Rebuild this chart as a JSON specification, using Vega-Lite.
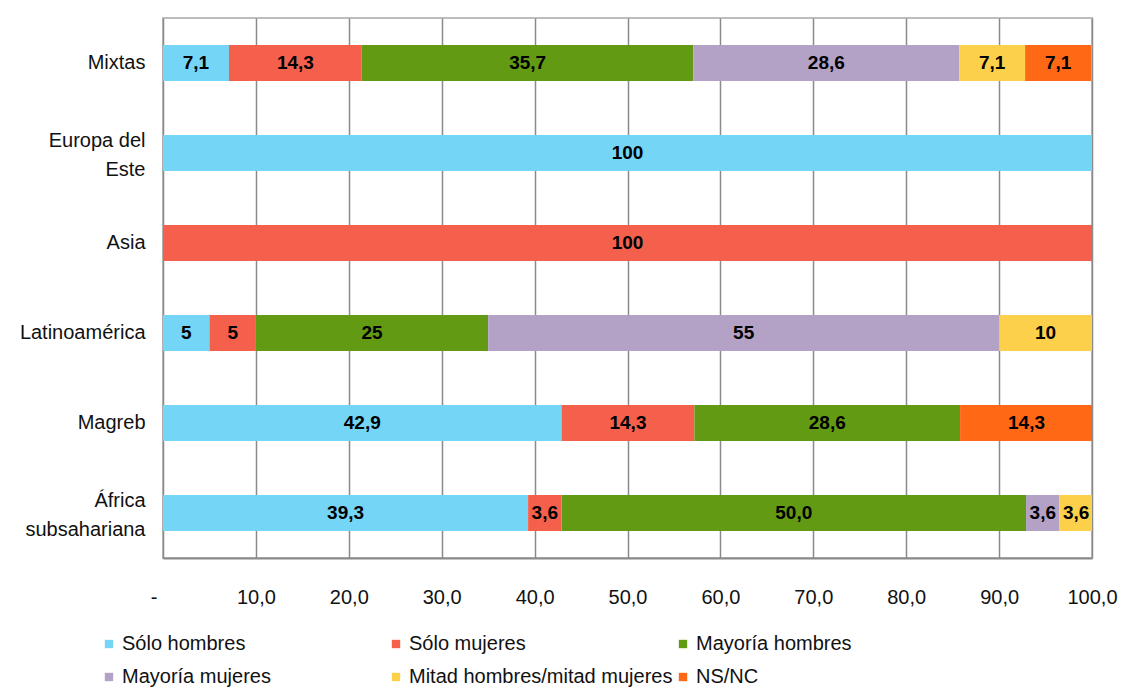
{
  "$schema": "https://vega.github.io/schema/vega-lite/v6.json",
  "width": 929,
  "height": 540,
  "autosize": {"type": "none"},
  "padding": {"left": 163, "top": 18, "right": 38, "bottom": 137},
  "background": "white",
  "config": {
    "font": "Liberation Sans",
    "view": {"stroke": "#bdbdbd", "strokeWidth": 2}
  },
  "data": {
    "values": [
      {"grupo": "Mixtas", "tipo": "Sólo hombres", "o": 1, "v": 7.1, "etiqueta": "7,1"},
      {"grupo": "Mixtas", "tipo": "Sólo mujeres", "o": 2, "v": 14.3, "etiqueta": "14,3"},
      {"grupo": "Mixtas", "tipo": "Mayoría hombres", "o": 3, "v": 35.7, "etiqueta": "35,7"},
      {"grupo": "Mixtas", "tipo": "Mayoría mujeres", "o": 4, "v": 28.6, "etiqueta": "28,6"},
      {"grupo": "Mixtas", "tipo": "Mitad hombres/mitad mujeres", "o": 5, "v": 7.1, "etiqueta": "7,1"},
      {"grupo": "Mixtas", "tipo": "NS/NC", "o": 6, "v": 7.1, "etiqueta": "7,1"},
      {"grupo": "Europa del Este", "tipo": "Sólo hombres", "o": 1, "v": 100, "etiqueta": "100"},
      {"grupo": "Asia", "tipo": "Sólo mujeres", "o": 2, "v": 100, "etiqueta": "100"},
      {"grupo": "Latinoamérica", "tipo": "Sólo hombres", "o": 1, "v": 5, "etiqueta": "5"},
      {"grupo": "Latinoamérica", "tipo": "Sólo mujeres", "o": 2, "v": 5, "etiqueta": "5"},
      {"grupo": "Latinoamérica", "tipo": "Mayoría hombres", "o": 3, "v": 25, "etiqueta": "25"},
      {"grupo": "Latinoamérica", "tipo": "Mayoría mujeres", "o": 4, "v": 55, "etiqueta": "55"},
      {"grupo": "Latinoamérica", "tipo": "Mitad hombres/mitad mujeres", "o": 5, "v": 10, "etiqueta": "10"},
      {"grupo": "Magreb", "tipo": "Sólo hombres", "o": 1, "v": 42.9, "etiqueta": "42,9"},
      {"grupo": "Magreb", "tipo": "Sólo mujeres", "o": 2, "v": 14.3, "etiqueta": "14,3"},
      {"grupo": "Magreb", "tipo": "Mayoría hombres", "o": 3, "v": 28.6, "etiqueta": "28,6"},
      {"grupo": "Magreb", "tipo": "NS/NC", "o": 6, "v": 14.3, "etiqueta": "14,3"},
      {"grupo": "África subsahariana", "tipo": "Sólo hombres", "o": 1, "v": 39.3, "etiqueta": "39,3"},
      {"grupo": "África subsahariana", "tipo": "Sólo mujeres", "o": 2, "v": 3.6, "etiqueta": "3,6"},
      {"grupo": "África subsahariana", "tipo": "Mayoría hombres", "o": 3, "v": 50.0, "etiqueta": "50,0"},
      {"grupo": "África subsahariana", "tipo": "Mayoría mujeres", "o": 4, "v": 3.6, "etiqueta": "3,6"},
      {"grupo": "África subsahariana", "tipo": "Mitad hombres/mitad mujeres", "o": 5, "v": 3.6, "etiqueta": "3,6"}
    ]
  },
  "transform": [
    {"stack": "v", "groupby": ["grupo"], "sort": [{"field": "o", "order": "ascending"}], "as": ["v0", "v1"]},
    {"calculate": "(datum.v0 + datum.v1) / 2", "as": "mid"}
  ],
  "encoding": {
    "y": {
      "field": "grupo",
      "type": "nominal",
      "sort": ["Mixtas", "Europa del Este", "Asia", "Latinoamérica", "Magreb", "África subsahariana"],
      "scale": {"paddingInner": 0.6, "paddingOuter": 0.3},
      "axis": {
        "title": null,
        "domain": false,
        "ticks": false,
        "labelFontSize": 20,
        "labelColor": "#111",
        "labelPadding": 18,
        "labelLineHeight": 29,
        "labelOffset": {"condition": {"test": "datum.value == 'Europa del Este' || datum.value == 'África subsahariana'", "value": -12}, "value": 0},
        "labelExpr": "datum.value == 'Europa del Este' ? ['Europa del', 'Este'] : datum.value == 'África subsahariana' ? ['África', 'subsahariana'] : datum.value"
      }
    }
  },
  "layer": [
    {
      "mark": {"type": "bar", "clip": true},
      "encoding": {
        "x": {
          "field": "v0",
          "type": "quantitative",
          "scale": {"domain": [0, 100], "nice": false, "zero": true},
          "axis": {
            "title": null,
            "values": [0, 10, 20, 30, 40, 50, 60, 70, 80, 90, 100],
            "labelExpr": "datum.value == 0 ? '-' : replace(format(datum.value, '.1f'), '.', ',')",
            "labelFontSize": 20,
            "labelColor": "#111",
            "labelPadding": 29,
            "labelAlign": {"condition": {"test": "datum.value == 0", "value": "right"}, "value": "center"},
            "labelOffset": {"condition": {"test": "datum.value == 0", "value": -6}, "value": 0},
            "ticks": false,
            "domain": true,
            "domainColor": "#8a8a8a",
            "domainWidth": 2,
            "grid": true,
            "gridColor": "#8a8a8a",
            "gridWidth": 1.5
          }
        },
        "x2": {"field": "v1"},
        "color": {
          "field": "tipo",
          "type": "nominal",
          "scale": {
            "domain": ["Sólo hombres", "Sólo mujeres", "Mayoría hombres", "Mayoría mujeres", "Mitad hombres/mitad mujeres", "NS/NC"],
            "range": ["#74d5f6", "#f5604c", "#629a14", "#b3a1c6", "#fdd04b", "#ff6916"]
          },
          "legend": {
            "title": null,
            "orient": "none",
            "legendX": -64,
            "legendY": 616,
            "columns": 3,
            "direction": "horizontal",
            "gridAlign": "all",
            "symbolType": "square",
            "symbolSize": 70,
            "symbolStrokeWidth": 0,
            "labelFontSize": 20,
            "labelColor": "#111",
            "labelOffset": 3,
            "rowPadding": 13,
            "columnPadding": -6,
            "labelLimit": 400
          }
        }
      }
    },
    {
      "mark": {"type": "text", "fontWeight": "bold", "fontSize": 19, "color": "#000", "baseline": "middle", "align": "center"},
      "encoding": {
        "x": {"field": "mid", "type": "quantitative"},
        "text": {"field": "etiqueta"}
      }
    }
  ]
}
